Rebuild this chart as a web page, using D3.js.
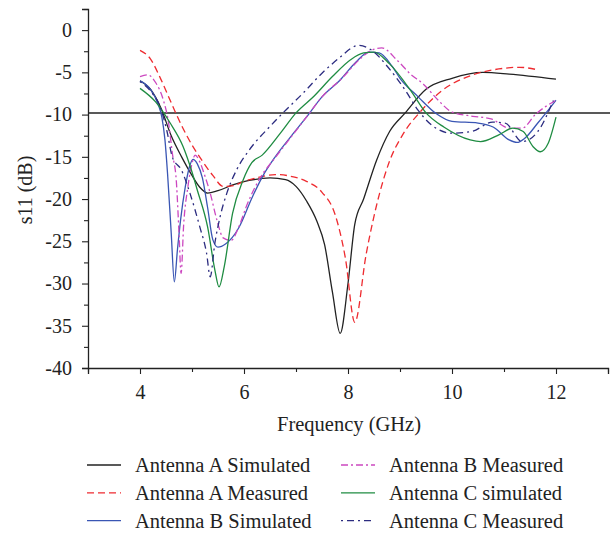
<!DOCTYPE html>
<html>
<head>
<meta charset="utf-8">
<script src="https://cdn.jsdelivr.net/npm/d3@7"></script>
<style>
  body { margin: 0; background: #fff; }
  svg text { font-family: "Liberation Serif", "DejaVu Serif", serif; fill: #222; }
</style>
</head>
<body>
<div id="chart"></div>
<script>
// frequency (GHz), s11 (dB)
var antASim = [[4,-6.0],[4.2,-7.0],[4.4,-9.2],[4.6,-12.5],[4.8,-15.0],[5.0,-17.2],[5.15,-18.6],[5.3,-19.3],[5.5,-19.0],[5.8,-18.3],[6.1,-17.8],[6.5,-17.5],[6.8,-17.7],[7.0,-18.5],[7.2,-20.2],[7.4,-22.6],[7.55,-25.4],[7.7,-31],[7.85,-35.9],[8.0,-30],[8.13,-23],[8.3,-20],[8.55,-15.4],[8.8,-12],[9.1,-9.8],[9.5,-7],[10.0,-5.7],[10.6,-5.0],[11.1,-5.2],[12.0,-5.8]];
var antAMeas = [[4,-2.4],[4.2,-3.4],[4.4,-5.8],[4.6,-8.6],[4.8,-11.3],[5.0,-13.6],[5.2,-15.5],[5.4,-17.2],[5.6,-18.5],[5.8,-18.4],[6.0,-17.9],[6.3,-17.4],[6.6,-17.1],[6.9,-17.3],[7.2,-17.9],[7.5,-19.2],[7.75,-21.8],[7.95,-27],[8.13,-34.6],[8.35,-26.5],[8.6,-19.5],[8.8,-15.5],[9.05,-12.4],[9.4,-9.6],[9.8,-7.2],[10.4,-5.3],[10.9,-4.6],[11.3,-4.4],[11.65,-4.7]];
var antBSim = [[4,-6.0],[4.2,-7.0],[4.35,-8.8],[4.42,-10.3],[4.48,-13],[4.53,-17],[4.6,-24],[4.66,-29.8],[4.72,-26],[4.78,-22.5],[4.87,-18.6],[4.95,-16.2],[5.02,-15.3],[5.1,-15.8],[5.2,-17.5],[5.3,-21],[5.4,-24.8],[5.5,-25.7],[5.65,-25.3],[5.9,-23.4],[6.15,-19.9],[6.35,-17.4],[6.6,-15.0],[6.9,-12.6],[7.2,-10.3],[7.5,-7.9],[7.85,-5.9],[8.15,-3.8],[8.4,-2.6],[8.6,-2.7],[8.85,-4.3],[9.0,-5.7],[9.35,-7.9],[9.7,-9.9],[10.0,-10.8],[10.5,-11],[10.8,-11.5],[11.1,-13],[11.25,-13.3],[11.4,-12.8],[11.65,-11],[12.0,-8.3]];
var antBMeas = [[4,-5.5],[4.15,-5.3],[4.3,-6.2],[4.45,-8.3],[4.55,-11],[4.62,-14.5],[4.7,-18],[4.75,-24],[4.79,-28.8],[4.84,-23],[4.92,-18.6],[5.0,-15.8],[5.06,-14.8],[5.15,-15.6],[5.25,-17.3],[5.35,-19.3],[5.48,-22.5],[5.6,-24.6],[5.75,-24.9],[5.9,-23.3],[6.05,-20.8],[6.3,-17.6],[6.6,-15.1],[6.9,-12.7],[7.2,-10.3],[7.5,-7.9],[7.9,-5.6],[8.2,-3.6],[8.45,-2.4],[8.65,-2.1],[8.95,-3.6],[9.2,-5.2],[9.45,-6.4],[9.75,-8.4],[10.0,-9.7],[10.4,-10.2],[10.75,-10.5],[11.1,-11.6],[11.35,-11.6],[11.6,-10],[12.0,-8.3]];
var antCSim = [[4,-6.9],[4.3,-8.5],[4.58,-11],[4.83,-13.8],[5.0,-16.8],[5.1,-18.9],[5.3,-23.3],[5.44,-28.4],[5.52,-30.4],[5.62,-28],[5.78,-21.7],[5.98,-17.8],[6.15,-15.7],[6.35,-14.8],[6.7,-12.2],[7.0,-9.8],[7.35,-7.8],[7.7,-5.5],[8.05,-3.5],[8.3,-2.7],[8.5,-2.6],[8.8,-4],[9.2,-7.1],[9.5,-9.8],[9.85,-11.5],[10.35,-13],[10.55,-13.2],[10.9,-12.4],[11.17,-11.6],[11.37,-12],[11.56,-13.8],[11.7,-14.4],[11.85,-13.4],[12.0,-10.3]];
var antCMeas = [[4,-6.1],[4.2,-7.2],[4.4,-9.3],[4.52,-12],[4.62,-15],[4.8,-16.6],[4.96,-19.3],[5.15,-23.3],[5.28,-26.4],[5.35,-29.2],[5.44,-25.2],[5.54,-22.1],[5.67,-19.3],[5.87,-16.4],[6.1,-14.2],[6.5,-11.4],[6.75,-9.8],[7.13,-7.5],[7.5,-5.1],[7.85,-3.2],[8.1,-2.0],[8.2,-1.8],[8.46,-2.4],[8.77,-4.4],[9.1,-7.1],[9.35,-9.5],[9.62,-11.3],[10.0,-12.2],[10.38,-12],[10.78,-10.9],[11.02,-11],[11.35,-13.2],[11.65,-12],[11.95,-8.3]];

var seriesNames = ["Antenna A Simulated", "Antenna A Measured", "Antenna B Simulated",
                   "Antenna B Measured", "Antenna C simulated", "Antenna C Measured"];
var xMajorTicks = [4, 6, 8, 10, 12];
var xMinorTicks = [3, 5, 7, 9, 11, 13];
var yMajorTicks = [-40, -35, -30, -25, -20, -15, -10, -5, 0];
var yMinorTicks = [-37.5, -32.5, -27.5, -22.5, -17.5, -12.5, -7.5, -2.5, 2.5];
var refLevel = -9.8;

function init() {
    var w = 610, h = 535;
    var left = 88, right = 608, top = 9, bottom = 368;

    var series = [
        {data: antASim,  color: "#222222", dash: null},
        {data: antAMeas, color: "#ee2b30", dash: "7,4"},
        {data: antBSim,  color: "#3a56b4", dash: null},
        {data: antBMeas, color: "#cc48c0", dash: "7,3,2,3"},
        {data: antCSim,  color: "#1f8c42", dash: null},
        {data: antCMeas, color: "#2c2c80", dash: "2,4,7,4"}
    ];

    var x = d3.scaleLinear().domain([3, 13]).range([left, right]);
    var y = d3.scaleLinear().domain([-40, 2.5]).range([bottom, top]);

    var svg = d3.select("#chart").append("svg")
        .attr("width", w)
        .attr("height", h);

    // axes: major ticks with labels, minor ticks without
    svg.append("g")
        .attr("transform", "translate(0," + bottom + ")")
        .call(d3.axisBottom(x).tickValues(xMajorTicks).tickSize(6).tickPadding(11).tickFormat(d3.format("d")));
    svg.append("g")
        .attr("transform", "translate(0," + bottom + ")")
        .call(d3.axisBottom(x).tickValues(xMinorTicks).tickSize(4).tickFormat(""))
        .select(".domain").remove();

    var yAxis = svg.append("g")
        .attr("transform", "translate(" + left + ",0)")
        .call(d3.axisLeft(y).tickValues(yMajorTicks).tickSize(6).tickPadding(10).tickFormat(d3.format("d")));
    svg.append("g")
        .attr("transform", "translate(" + left + ",0)")
        .call(d3.axisLeft(y).tickValues(yMinorTicks).tickSize(4).tickFormat(""))
        .select(".domain").remove();

    svg.selectAll(".domain").attr("stroke", "#222").attr("stroke-width", 1.3);
    svg.selectAll(".tick line").attr("stroke", "#222").attr("stroke-width", 1.1);
    svg.selectAll(".tick text")
        .style("font-family", "Liberation Serif, DejaVu Serif, serif")
        .style("font-size", "20px")
        .attr("fill", "#222");
    // minus sign in the picture is a plain hyphen
    yAxis.selectAll(".tick text").text(function(d){ return d < 0 ? "-" + Math.abs(d) : d; });

    svg.append("text")
        .attr("transform", "translate(32,190) rotate(-90)")
        .attr("text-anchor", "middle")
        .style("font-size", "20px")
        .text("s11 (dB)");

    svg.append("text")
        .attr("x", 349)
        .attr("y", 431)
        .attr("text-anchor", "middle")
        .style("font-size", "20.5px")
        .text("Frequency (GHz)");

    // -10 dB reference line
    svg.append("line")
        .attr("x1", left).attr("x2", w)
        .attr("y1", y(refLevel)).attr("y2", y(refLevel))
        .attr("stroke", "#222")
        .attr("stroke-width", 1.5);

    var line = d3.line()
        .x(function(d){ return x(d[0]); })
        .y(function(d){ return y(d[1]); })
        .curve(d3.curveMonotoneX);

    svg.selectAll("path.series")
        .data(series)
        .enter()
        .append("path")
        .attr("class", "series")
        .attr("fill", "none")
        .attr("stroke", function(d){ return d.color; })
        .attr("stroke-width", 1.3)
        .attr("stroke-dasharray", function(d){ return d.dash; })
        .attr("d", function(d){ return line(d.data); });

    // legend, two columns of three
    var legend = svg.selectAll("g.legend")
        .data(series)
        .enter()
        .append("g")
        .attr("class", "legend")
        .attr("transform", function(d, i){
            var col = Math.floor(i / 3), row = i % 3;
            return "translate(" + (87 + col * 254) + "," + (465 + row * 27.8) + ")";
        });

    legend.append("line")
        .attr("x1", 0).attr("x2", 34)
        .attr("stroke", function(d){ return d.color; })
        .attr("stroke-width", 1.3)
        .attr("stroke-dasharray", function(d){ return d.dash; });

    legend.append("text")
        .attr("x", 48)
        .attr("y", 7)
        .style("font-size", "20.5px")
        .text(function(d, i){ return seriesNames[i]; });
}

window.onload = init;
</script>
</body>
</html>
